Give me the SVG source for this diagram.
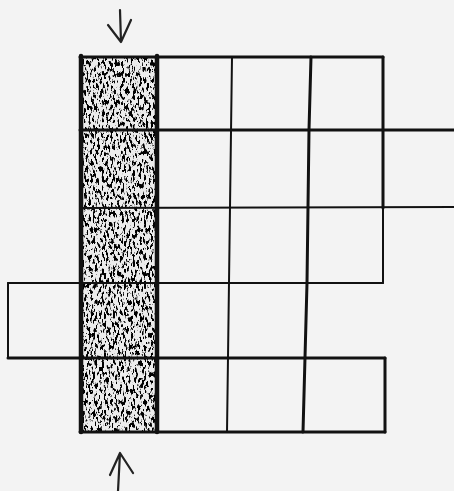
<svg xmlns="http://www.w3.org/2000/svg" width="454" height="491" viewBox="0 0 454 491">
<style>
.ln{stroke:#111;fill:none;stroke-linecap:round;stroke-linejoin:round}
.thin{stroke-width:2}
.mid{stroke-width:3}
.thick{stroke-width:4.5}
.arr{stroke:#222;fill:none;stroke-width:2.2;stroke-linecap:round;stroke-linejoin:round}
</style>
<defs>
<filter id="speck" x="0" y="0" width="100%" height="100%">
<feTurbulence type="fractalNoise" baseFrequency="0.45 0.18" numOctaves="3" seed="7" result="n"/>
<feColorMatrix in="n" type="matrix" values="0 0 0 0 0  0 0 0 0 0  0 0 0 0 0  -12 0 0 0 5.8" result="dots"/>
<feComposite in="dots" in2="SourceGraphic" operator="in"/>
</filter>
</defs>
<rect width="454" height="491" fill="#f3f3f3"/>
<g id="shaded-column">
<rect x="81" y="57" width="76" height="375" fill="#ececec"/>
<rect x="81" y="57" width="76" height="375" fill="#fff" filter="url(#speck)"/>
</g>
<g id="grid">
<path class="ln mid" d="M80 57 L383 57"/>
<path class="ln mid" d="M383 57 L383 208"/>
<path class="ln thin" d="M383 208 L383 283"/>
<path class="ln mid" d="M80 130 L454 130"/>
<path class="ln thin" d="M80 208 L454 207"/>
<path class="ln thin" d="M8 283 L383 283"/>
<path class="ln thin" d="M8 283 L8 358"/>
<path class="ln mid" d="M8 358 L385 358"/>
<path class="ln mid" d="M385 358 L385 432"/>
<path class="ln mid" d="M80 432 L385 432"/>
<path class="ln thin" d="M232 57 L227 432"/>
<path class="ln mid" d="M311 57 L309 130 L307 283 L303 432"/>
<path class="ln thick" d="M81 56 L81 432"/>
<path class="ln thick" d="M157 56 L157 432"/>
</g>
<g id="connectors">
<path class="arr" d="M120 10 L121 42 M108 25 L121 42 L131 20"/>
<path class="arr" d="M118 491 L120 453 M110 475 L120 453 L133 473"/>
</g>
</svg>
